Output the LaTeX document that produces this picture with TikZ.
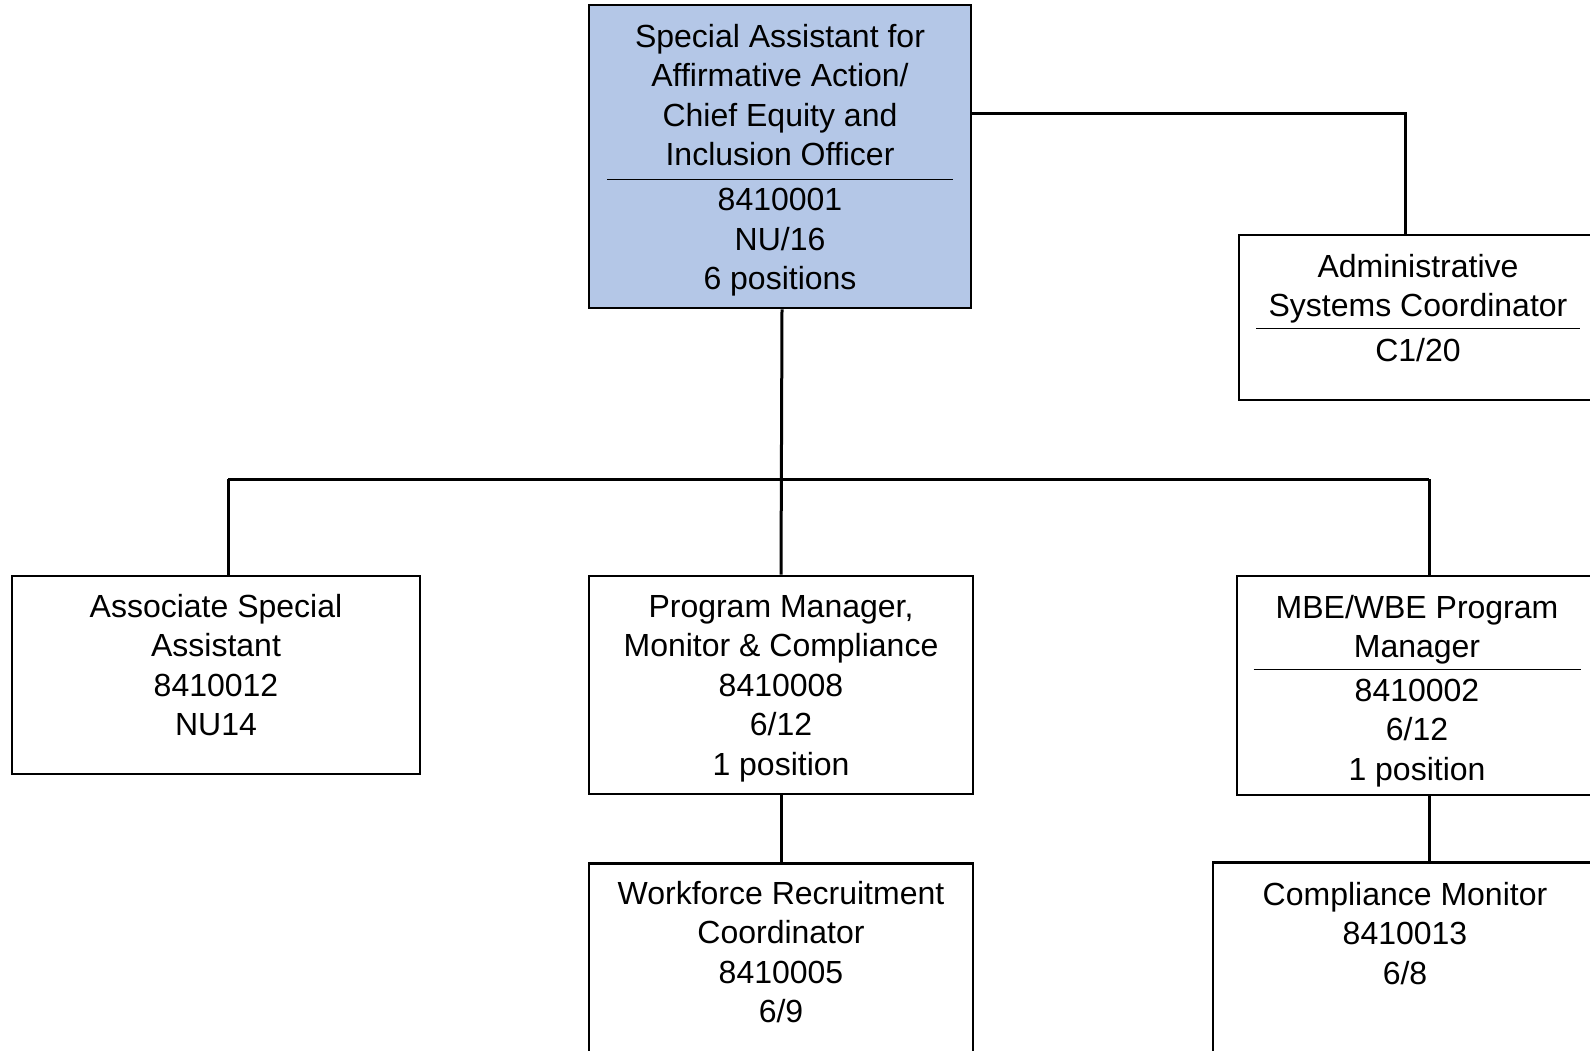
\documentclass[tikz,border=0pt]{standalone}
\usepackage{fontspec}
\setmainfont{Liberation Sans}
\usetikzlibrary{calc,positioning}
\definecolor{chiefblue}{HTML}{B4C7E7}
\newcommand{\divrule}[1]{\rule{#1}{1.6pt}}

\begin{document}
\begin{tikzpicture}[x=1pt,y=-1pt,
  line width=3pt,
  post/.style={rectangle, draw, line width=2.8pt, inner sep=0pt},
  txt/.style={anchor=north, inner sep=0pt, align=center,
    font=\fontsize{32}{39.5}\selectfont}]
    \path[use as bounding box, clip] (0,0) rectangle (1590,1050);

    % top row
    \node[post,fill=chiefblue,minimum width=382pt,minimum height=303pt] (chief) at (780,156.5) {};
    \node[post,minimum width=358pt,minimum height=165pt]                (admin) at (1418,317.5) {};

    % middle row
    \node[post,minimum width=408pt,minimum height=198pt] (assoc) at (216,675) {};
    \node[post,minimum width=384pt,minimum height=218pt] (pm)    at (781,685) {};
    \node[post,minimum width=360pt,minimum height=219pt] (mbe)   at (1417,685.5) {};

    % bottom row
    \node[post,minimum width=384pt,minimum height=220pt,below=67pt of pm]              (wf)   {};
    \node[post,minimum width=384pt,minimum height=220pt,below=65pt of mbe,xshift=-12pt] (comp) {};

    % texts
    \node[txt] (chieftxt) at ([yshift=-19pt]chief.north)
      {Special Assistant for\\Affirmative Action/\\Chief Equity and\\Inclusion Officer\\[-25pt]\divrule{346pt}\\[-9pt]8410001\\NU/16\\6 positions};
    \node[txt] (admintxt) at ([yshift=-19pt]admin.north)
      {Administrative\\Systems Coordinator\\[-27pt]\divrule{324pt}\\[-7pt]C1/20};
    \node[txt] (assoctxt) at ([yshift=-18pt]assoc.north)
      {Associate Special\\Assistant\\8410012\\NU14};
    \node[txt] (pmtxt)    at ([yshift=-19pt]pm.north)
      {Program Manager,\\Monitor \& Compliance\\8410008\\6/12\\1 position};
    \node[txt] (mbetxt)   at ([yshift=-19pt]mbe.north)
      {MBE/WBE Program\\Manager\\[-27pt]\divrule{327pt}\\[-8.5pt]8410002\\6/12\\1 position};
    \node[txt] (wftxt)    at ([yshift=-17pt]wf.north)
      {Workforce Recruitment\\Coordinator\\8410005\\6/9};
    \node[txt] (comptxt)  at ([yshift=-19pt]comp.north)
      {Compliance Monitor\\8410013\\6/8};

    % connectors
    \coordinate (busL) at (228,479);
    \coordinate (busR) at (1429,479);
    \draw ([yshift=43.5pt]chief.east) -| ([xshift=-13pt]admin.north);
    \draw ([xshift=2pt]chief.south) -- (pm.north);
    \draw (busL) -- (busR);
    \draw (busL) -- (busL |- assoc.north);
    \draw (busR) -- (busR |- mbe.north);
    \draw (pm.south) -- (wf.north);
    \draw (busR |- mbe.south) -- (busR |- comp.north);

\end{tikzpicture}
\end{document}
